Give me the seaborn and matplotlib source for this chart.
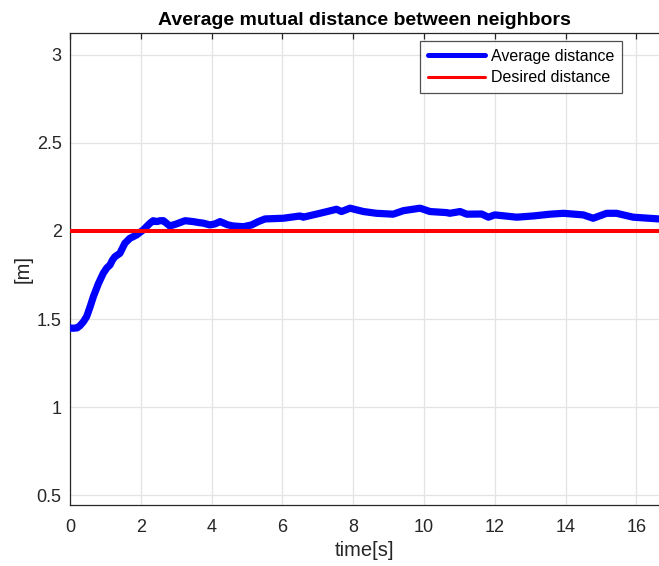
import matplotlib
matplotlib.use("Agg")
import matplotlib.pyplot as plt
import seaborn as sns
import pandas as pd
from matplotlib.lines import Line2D

# ---- data ----
time_s = [0.0, 0.10, 0.20, 0.28, 0.38, 0.47, 0.56, 0.66, 0.80, 0.94, 1.04, 1.13, 1.20, 1.27,
          1.41, 1.55, 1.69, 1.88, 2.07, 2.26, 2.35, 2.45, 2.55, 2.64, 2.82, 3.01, 3.25,
          3.48, 3.62, 3.77, 3.95, 4.10, 4.24, 4.45, 4.61, 4.90, 5.13, 5.32, 5.51,
          6.03, 6.50, 6.59, 7.06, 7.53, 7.67, 7.91, 8.29, 8.66, 9.13, 9.42, 9.89,
          10.17, 10.64, 10.73, 11.02, 11.21, 11.63, 11.82, 12.00, 12.62, 13.09, 13.56,
          13.94, 14.50, 14.78, 15.16, 15.44, 15.91, 16.64]
avg_distance = [1.449, 1.448, 1.450, 1.462, 1.485, 1.514, 1.565, 1.627, 1.700, 1.760, 1.790,
                1.807, 1.835, 1.854, 1.873, 1.930, 1.958, 1.977, 2.006, 2.044, 2.058, 2.053,
                2.058, 2.058, 2.028, 2.040, 2.058, 2.053, 2.048, 2.044, 2.034, 2.040, 2.053,
                2.035, 2.028, 2.024, 2.034, 2.053, 2.068, 2.072, 2.085, 2.078, 2.100, 2.123,
                2.110, 2.129, 2.110, 2.100, 2.095, 2.115, 2.129, 2.110, 2.104, 2.100, 2.110,
                2.095, 2.096, 2.078, 2.091, 2.078, 2.085, 2.095, 2.100, 2.091, 2.072, 2.100,
                2.100, 2.078, 2.068]
desired_time = [0.0, 16.64]
desired_distance = [2.0, 2.0]
x_ticks = [0, 2, 4, 6, 8, 10, 12, 14, 16]
y_ticks = [0.5, 1.0, 1.5, 2.0, 2.5, 3.0]
y_tick_labels = ["0.5", "1", "1.5", "2", "2.5", "3"]

sns.set_style("white")
plt.rcParams['font.family'] = ['Liberation Sans', 'DejaVu Sans']

fig = plt.figure(figsize=(6.59, 5.66), dpi=100)
ax = fig.add_axes([70 / 659, 61 / 566, 1 - 70 / 659, 472 / 566])

df_avg = pd.DataFrame({"time": time_s, "dist": avg_distance})
df_des = pd.DataFrame({"time": desired_time, "dist": desired_distance})

sns.lineplot(data=df_avg, x="time", y="dist", ax=ax, color="#0000ff", linewidth=5.2,
             solid_capstyle="round", solid_joinstyle="round", zorder=3)
sns.lineplot(data=df_des, x="time", y="dist", ax=ax, color="#ff0000", linewidth=2.9, zorder=4)

ax.set_xlim(0, 16.64)
ax.set_ylim(0.445, 3.123)
ax.set_xticks(x_ticks)
ax.set_xticklabels([str(t) for t in x_ticks])
ax.set_yticks(y_ticks)
ax.set_yticklabels(y_tick_labels)

ax.grid(True, color="#e3e3e3", linewidth=0.9)
ax.set_axisbelow(True)
for side in ["left", "bottom", "top"]:
    ax.spines[side].set_color("#262626")
    ax.spines[side].set_linewidth(0.9)
ax.spines["right"].set_visible(False)
ax.tick_params(direction="in", length=4.5, width=0.9, color="#262626",
               labelsize=13, labelcolor="#262626", top=True)
ax.tick_params(axis="y", pad=6)
ax.tick_params(axis="x", pad=10)

ax.set_title("Average mutual distance between neighbors", fontsize=14, fontweight="bold",
             color="black", pad=6)
ax.set_xlabel("time[s]", fontsize=14.5, color="#262626", labelpad=4)
ax.set_ylabel("[m]", fontsize=14.5, color="#262626", labelpad=3)

handles = [Line2D([], [], color="#0000ff", linewidth=3.6),
           Line2D([], [], color="#ff0000", linewidth=2.2)]
leg = ax.legend(handles, ["Average distance", "Desired distance"], loc="upper right",
                bbox_to_anchor=(622 / 659, 1 - 41 / 566), bbox_transform=fig.transFigure,
                fontsize=11.5, frameon=True, fancybox=False, handlelength=3.6,
                handletextpad=0.35, borderpad=0.5, labelspacing=0.4, borderaxespad=0)
leg.get_frame().set_edgecolor("#262626")
leg.get_frame().set_linewidth(0.9)
for t in leg.get_texts():
    t.set_color("black")

fig.savefig("out.png", dpi=100)
